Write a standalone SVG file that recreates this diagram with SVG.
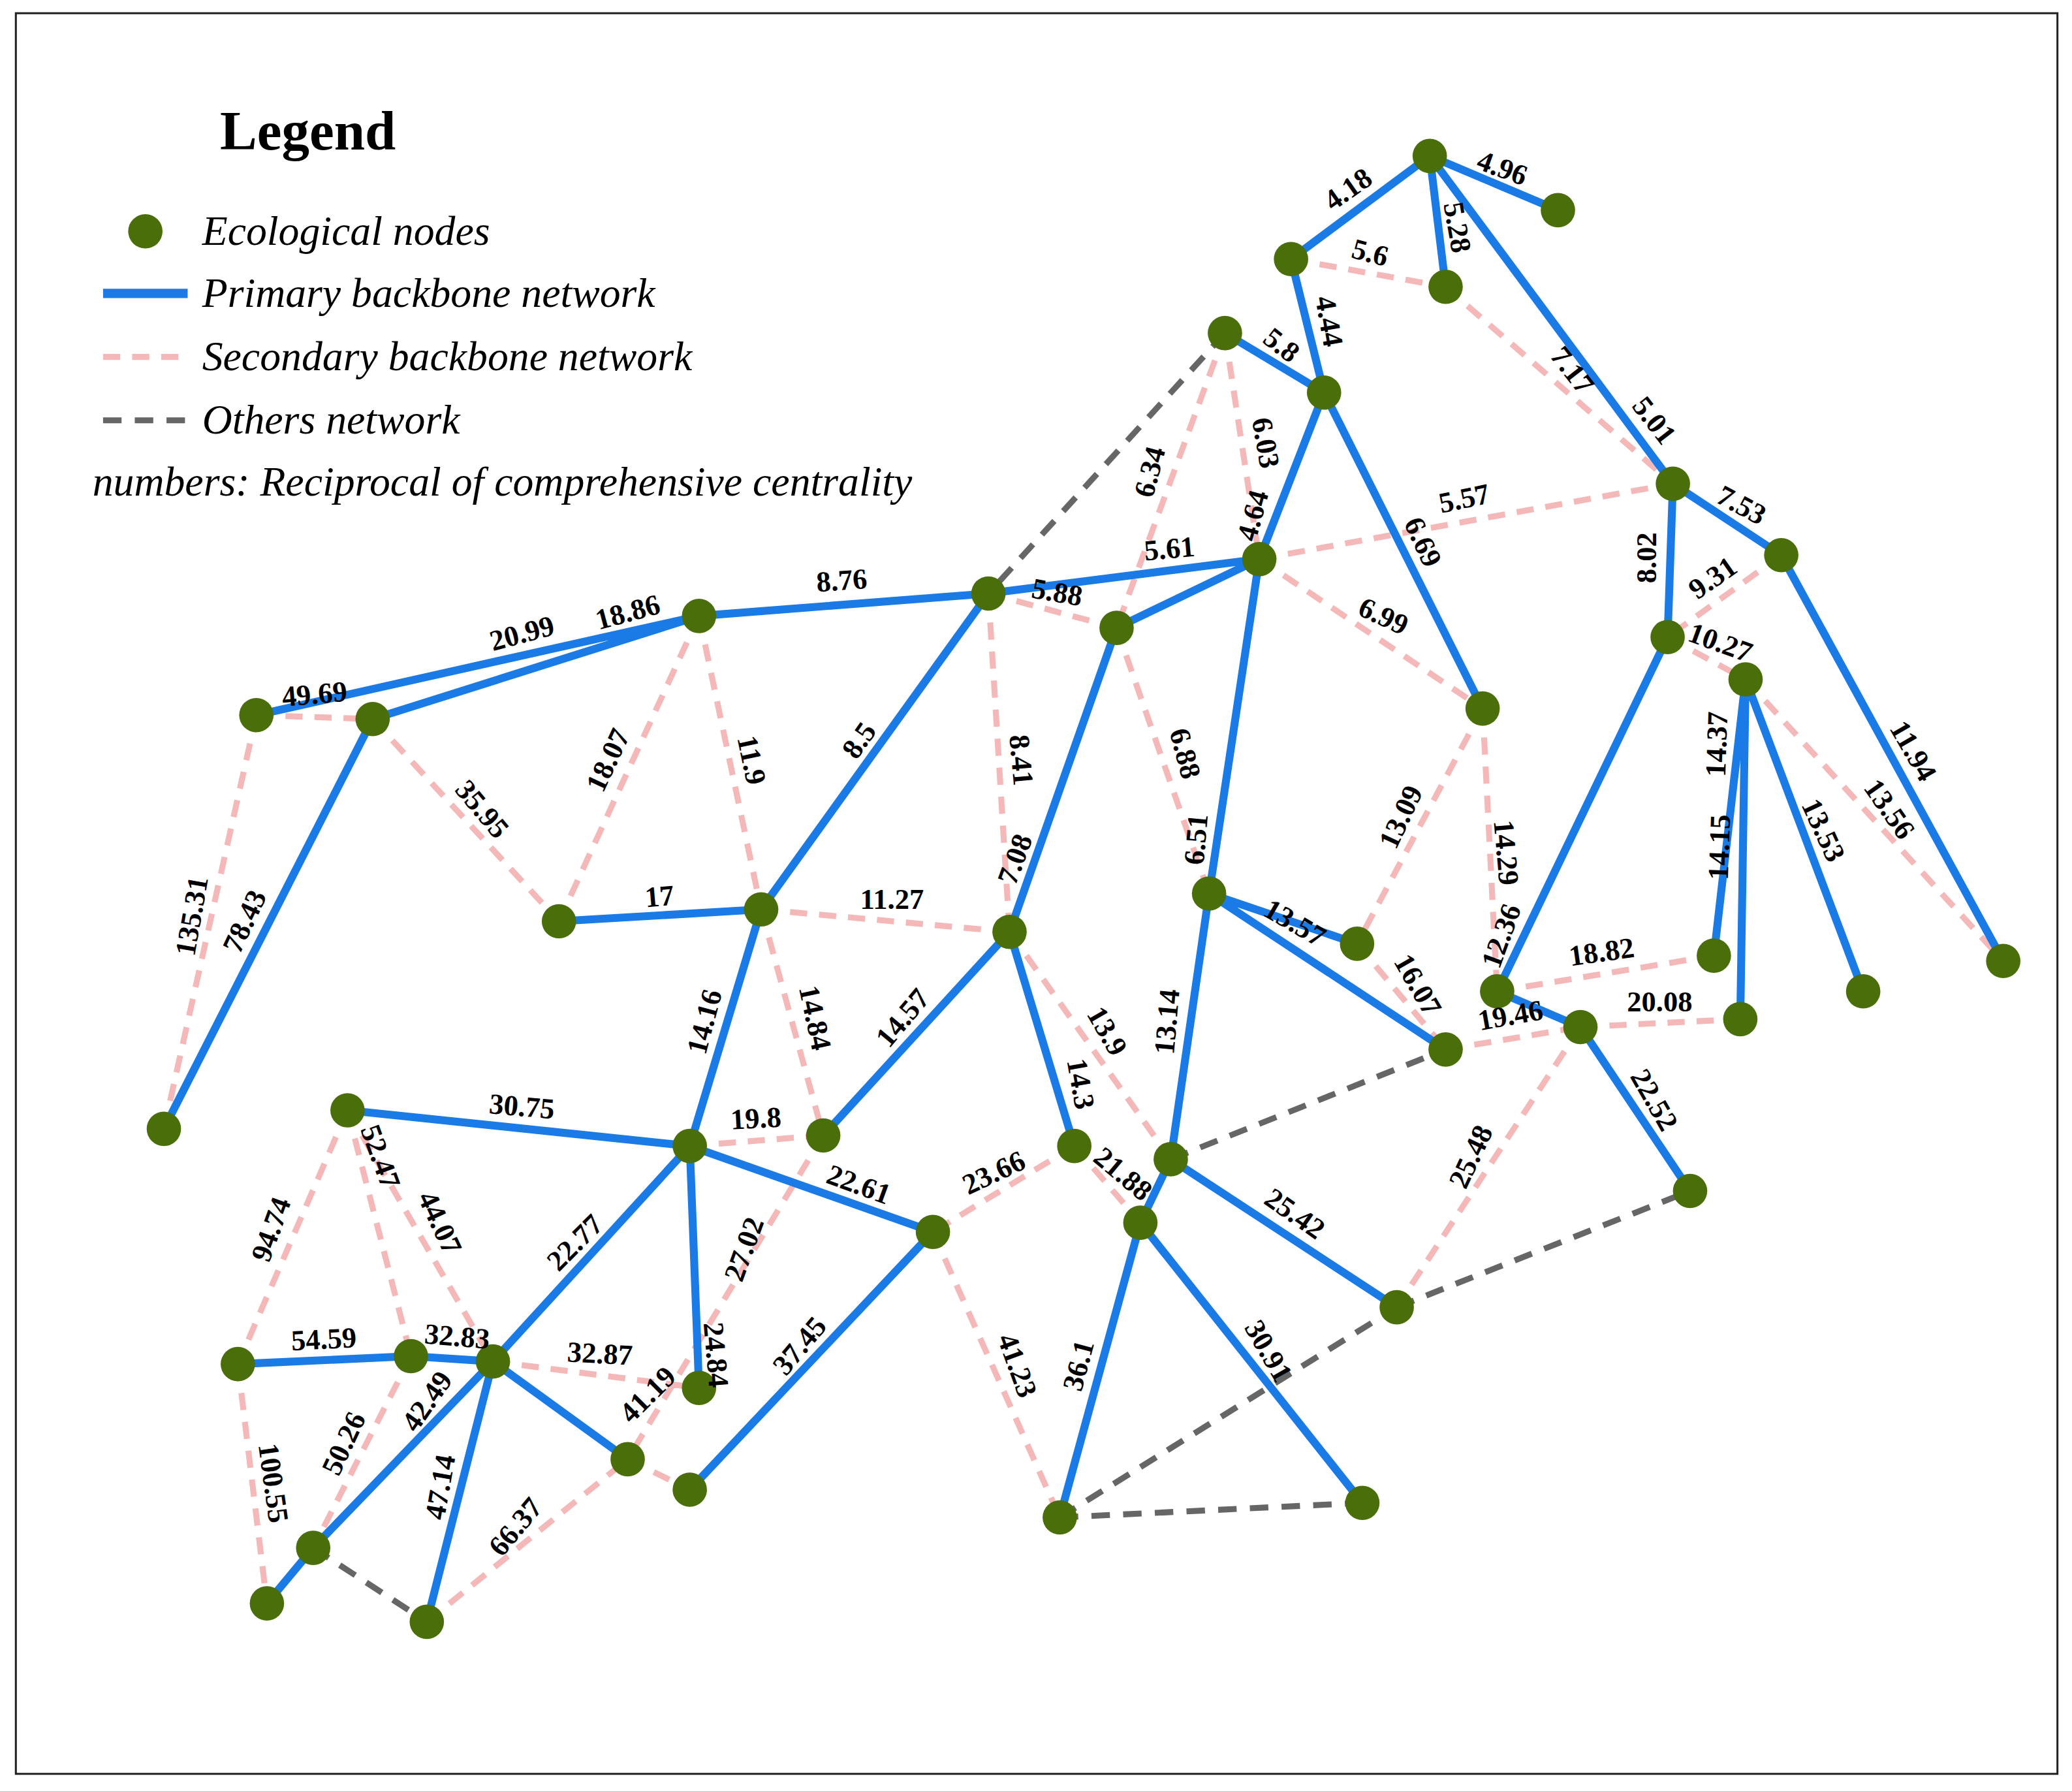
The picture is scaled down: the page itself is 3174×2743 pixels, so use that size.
<svg xmlns="http://www.w3.org/2000/svg" width="3174" height="2743" viewBox="0 0 3174 2743">
<style>
.p{stroke:#1a7be6;stroke-width:6;fill:none;stroke-linecap:round}
.s{stroke:#f4b8b8;stroke-width:4.5;fill:none;stroke-dasharray:13 9}
.o{stroke:#666;stroke-width:4.5;fill:none;stroke-dasharray:14 10}
.n{fill:#4a6e0a}
.l{font-family:"Liberation Serif",serif;font-weight:bold;font-size:22px;fill:#000;text-anchor:middle;dominant-baseline:central}
.g{font-family:"Liberation Serif",serif;font-style:italic;font-size:31.5px;fill:#000}
</style>
<rect width="3174" height="2743" fill="#fff"/>
<g transform="scale(2.0242,2.0244)">
<rect x="12" y="10" width="1545" height="1332" fill="none" stroke="#222" stroke-width="1.5"/>
<g id="legend">
<text x="233" y="113" font-family="Liberation Serif,serif" font-weight="bold" font-size="42" text-anchor="middle">Legend</text>
<circle class="n" cx="110" cy="175" r="13"/>
<text class="g" x="153" y="185">Ecological nodes</text>
<line x1="78" y1="222" x2="142" y2="222" stroke="#1a7be6" stroke-width="7"/>
<text class="g" x="153" y="232">Primary backbone network</text>
<line x1="78" y1="270" x2="142" y2="270" class="s"/>
<text class="g" x="153" y="280">Secondary backbone network</text>
<line x1="78" y1="318" x2="142" y2="318" class="o"/>
<text class="g" x="153" y="328">Others network</text>
<text class="g" x="70" y="375">numbers: Reciprocal of comprehensive centrality</text>
</g>
<g id="connectors">
<g>
<path class="s" d="M977,196L1094,217M1094,217L1266,366M927,252L845,475M927,252L953,423M953,423L1266,366M953,423L1122,536M748,449L845,475M748,449L764,705M845,475L915,676M1122,536L1027,714M1122,536L1133,750M1348,420L1262,482M1262,482L1321,514M1321,514L1516,727M194,541L282,544M194,541L124,854M282,544L423,697M529,466L423,697M529,466L576,688M576,688L764,705M576,688L623,859M522,867L623,859M764,705L886,877M813,867L706,932M813,867L863,925M706,932L802,1148M1027,714L1094,794M1133,750L1297,723M1094,794L1196,777M1196,777L1317,771M1196,777L1057,989M263,840L180,1032M263,840L311,1026M263,840L373,1030M180,1032L202,1213M311,1026L237,1171M373,1030L529,1050M623,859L475,1104M475,1104L522,1127M323,1227L475,1104"/>
</g>
<g>
<path class="o" d="M927,252L748,449M886,877L1094,794M1057,989L1279,901M802,1148L1057,989M802,1148L1031,1137M237,1171L323,1227"/>
</g>
<g>
<path class="p" d="M1082,118L977,196M1082,118L1179,159M1082,118L1094,217M1082,118L1266,366M977,196L1002,297M927,252L1002,297M1002,297L953,423M1002,297L1122,536M953,423L748,449M953,423L845,475M953,423L915,676M748,449L529,466M529,466L194,541M529,466L282,544M282,544L124,854M748,449L576,688M423,697L576,688M576,688L522,867M845,475L764,705M764,705L623,859M764,705L813,867M915,676L1027,714M915,676L1094,794M915,676L886,877M1266,366L1262,482M1266,366L1348,420M1348,420L1516,727M1262,482L1133,750M1321,514L1297,723M1321,514L1317,771M1321,514L1410,750M1133,750L1196,777M1196,777L1279,901M263,840L522,867M522,867L373,1030M522,867L529,1050M522,867L706,932M706,932L522,1127M886,877L863,925M886,877L1057,989M863,925L802,1148M863,925L1031,1137M180,1032L311,1026M311,1026L373,1030M373,1030L237,1171M237,1171L202,1213M373,1030L323,1227M373,1030L475,1104"/>
</g>
</g>
<g id="nodes">
<circle id="n1" class="n" cx="1082" cy="118" r="13"/><circle id="n2" class="n" cx="1179" cy="159" r="13"/><circle id="n3" class="n" cx="977" cy="196" r="13"/><circle id="n4" class="n" cx="1094" cy="217" r="13"/><circle id="n5" class="n" cx="927" cy="252" r="13"/><circle id="n6" class="n" cx="1002" cy="297" r="13"/><circle id="n7" class="n" cx="1266" cy="366" r="13"/><circle id="n8" class="n" cx="1348" cy="420" r="13"/><circle id="n9" class="n" cx="953" cy="423" r="13"/><circle id="n10" class="n" cx="748" cy="449" r="13"/><circle id="n11" class="n" cx="845" cy="475" r="13"/><circle id="n12" class="n" cx="529" cy="466" r="13"/><circle id="n13" class="n" cx="1262" cy="482" r="13"/><circle id="n14" class="n" cx="1321" cy="514" r="13"/><circle id="n15" class="n" cx="1122" cy="536" r="13"/><circle id="n16" class="n" cx="194" cy="541" r="13"/><circle id="n17" class="n" cx="282" cy="544" r="13"/><circle id="n18" class="n" cx="423" cy="697" r="13"/><circle id="n19" class="n" cx="576" cy="688" r="13"/><circle id="n20" class="n" cx="764" cy="705" r="13"/><circle id="n21" class="n" cx="915" cy="676" r="13"/><circle id="n22" class="n" cx="1027" cy="714" r="13"/><circle id="n23" class="n" cx="124" cy="854" r="13"/><circle id="n24" class="n" cx="1297" cy="723" r="13"/><circle id="n25" class="n" cx="1410" cy="750" r="13"/><circle id="n26" class="n" cx="1516" cy="727" r="13"/><circle id="n27" class="n" cx="1133" cy="750" r="13"/><circle id="n28" class="n" cx="1196" cy="777" r="13"/><circle id="n29" class="n" cx="1317" cy="771" r="13"/><circle id="n30" class="n" cx="1094" cy="794" r="13"/><circle id="n31" class="n" cx="263" cy="840" r="13"/><circle id="n32" class="n" cx="522" cy="867" r="13"/><circle id="n33" class="n" cx="623" cy="859" r="13"/><circle id="n34" class="n" cx="813" cy="867" r="13"/><circle id="n35" class="n" cx="886" cy="877" r="13"/><circle id="n36" class="n" cx="863" cy="925" r="13"/><circle id="n37" class="n" cx="706" cy="932" r="13"/><circle id="n38" class="n" cx="1279" cy="901" r="13"/><circle id="n39" class="n" cx="1057" cy="989" r="13"/><circle id="n40" class="n" cx="180" cy="1032" r="13"/><circle id="n41" class="n" cx="311" cy="1026" r="13"/><circle id="n42" class="n" cx="373" cy="1030" r="13"/><circle id="n43" class="n" cx="529" cy="1050" r="13"/><circle id="n44" class="n" cx="475" cy="1104" r="13"/><circle id="n45" class="n" cx="522" cy="1127" r="13"/><circle id="n46" class="n" cx="802" cy="1148" r="13"/><circle id="n47" class="n" cx="1031" cy="1137" r="13"/><circle id="n48" class="n" cx="237" cy="1171" r="13"/><circle id="n49" class="n" cx="202" cy="1213" r="13"/><circle id="n50" class="n" cx="323" cy="1227" r="13"/>
</g>
<g id="labels">
<text class="l" transform="translate(1020,143) rotate(-35)">4.18</text>
<text class="l" transform="translate(1137,127) rotate(20)">4.96</text>
<text class="l" transform="translate(1103,172) rotate(80)">5.28</text>
<text class="l" transform="translate(1037,191) rotate(15)">5.6</text>
<text class="l" transform="translate(1006,243) rotate(80)">4.44</text>
<text class="l" transform="translate(970,261) rotate(38)">5.8</text>
<text class="l" transform="translate(1190,280) rotate(52)">7.17</text>
<text class="l" transform="translate(1252,318) rotate(52)">5.01</text>
<text class="l" transform="translate(870,357) rotate(-75)">6.34</text>
<text class="l" transform="translate(958,335) rotate(80)">6.03</text>
<text class="l" transform="translate(948,390) rotate(-75)">4.64</text>
<text class="l" transform="translate(1108,377) rotate(-12)">5.57</text>
<text class="l" transform="translate(1318,382) rotate(28)">7.53</text>
<text class="l" transform="translate(1246,422) rotate(-90)">8.02</text>
<text class="l" transform="translate(1296,437) rotate(-35)">9.31</text>
<text class="l" transform="translate(1302,486) rotate(20)">10.27</text>
<text class="l" transform="translate(1077,410) rotate(65)">6.69</text>
<text class="l" transform="translate(885,415) rotate(-5)">5.61</text>
<text class="l" transform="translate(800,448) rotate(10)">5.88</text>
<text class="l" transform="translate(637,439) rotate(-4)">8.76</text>
<text class="l" transform="translate(475,463) rotate(-15)">18.86</text>
<text class="l" transform="translate(395,479) rotate(-15)">20.99</text>
<text class="l" transform="translate(238,525) rotate(-5)">49.69</text>
<text class="l" transform="translate(1047,466) rotate(25)">6.99</text>
<text class="l" transform="translate(1448,568) rotate(60)">11.94</text>
<text class="l" transform="translate(1430,612) rotate(55)">13.56</text>
<text class="l" transform="translate(1299,563) rotate(-88)">14.37</text>
<text class="l" transform="translate(1301,641) rotate(-88)">14.15</text>
<text class="l" transform="translate(1380,628) rotate(65)">13.53</text>
<text class="l" transform="translate(773,575) rotate(85)">8.41</text>
<text class="l" transform="translate(897,570) rotate(75)">6.88</text>
<text class="l" transform="translate(650,560) rotate(-55)">8.5</text>
<text class="l" transform="translate(460,575) rotate(-65)">18.07</text>
<text class="l" transform="translate(569,575) rotate(78)">11.9</text>
<text class="l" transform="translate(365,612) rotate(50)">35.95</text>
<text class="l" transform="translate(1060,618) rotate(-65)">13.09</text>
<text class="l" transform="translate(1140,645) rotate(85)">14.29</text>
<text class="l" transform="translate(768,650) rotate(-70)">7.08</text>
<text class="l" transform="translate(905,635) rotate(-85)">6.51</text>
<text class="l" transform="translate(145,693) rotate(-80)">135.31</text>
<text class="l" transform="translate(185,697) rotate(-65)">78.43</text>
<text class="l" transform="translate(499,678) rotate(-5)">17</text>
<text class="l" transform="translate(675,680) rotate(0)">11.27</text>
<text class="l" transform="translate(1136,708) rotate(-70)">12.36</text>
<text class="l" transform="translate(980,698) rotate(30)">13.57</text>
<text class="l" transform="translate(1073,745) rotate(60)">16.07</text>
<text class="l" transform="translate(1212,720) rotate(-8)">18.82</text>
<text class="l" transform="translate(1143,768) rotate(-10)">19.46</text>
<text class="l" transform="translate(1256,758) rotate(0)">20.08</text>
<text class="l" transform="translate(533,773) rotate(-75)">14.16</text>
<text class="l" transform="translate(617,770) rotate(78)">14.84</text>
<text class="l" transform="translate(683,770) rotate(-50)">14.57</text>
<text class="l" transform="translate(838,780) rotate(60)">13.9</text>
<text class="l" transform="translate(818,820) rotate(80)">14.3</text>
<text class="l" transform="translate(883,773) rotate(-85)">13.14</text>
<text class="l" transform="translate(1252,832) rotate(60)">22.52</text>
<text class="l" transform="translate(1113,875) rotate(-65)">25.48</text>
<text class="l" transform="translate(395,837) rotate(5)">30.75</text>
<text class="l" transform="translate(572,846) rotate(-3)">19.8</text>
<text class="l" transform="translate(650,896) rotate(20)">22.61</text>
<text class="l" transform="translate(752,887) rotate(-25)">23.66</text>
<text class="l" transform="translate(850,888) rotate(40)">21.88</text>
<text class="l" transform="translate(288,875) rotate(70)">52.47</text>
<text class="l" transform="translate(333,925) rotate(65)">44.07</text>
<text class="l" transform="translate(205,930) rotate(-70)">94.74</text>
<text class="l" transform="translate(435,940) rotate(-45)">22.77</text>
<text class="l" transform="translate(563,945) rotate(-70)">27.02</text>
<text class="l" transform="translate(980,918) rotate(35)">25.42</text>
<text class="l" transform="translate(542,1025) rotate(85)">24.84</text>
<text class="l" transform="translate(245,1013) rotate(-3)">54.59</text>
<text class="l" transform="translate(346,1011) rotate(5)">32.83</text>
<text class="l" transform="translate(454,1024) rotate(3)">32.87</text>
<text class="l" transform="translate(605,1018) rotate(-50)">37.45</text>
<text class="l" transform="translate(490,1055) rotate(-45)">41.19</text>
<text class="l" transform="translate(960,1022) rotate(60)">30.91</text>
<text class="l" transform="translate(770,1033) rotate(70)">41.23</text>
<text class="l" transform="translate(816,1033) rotate(-75)">36.1</text>
<text class="l" transform="translate(323,1060) rotate(-55)">42.49</text>
<text class="l" transform="translate(260,1092) rotate(-65)">50.26</text>
<text class="l" transform="translate(207,1122) rotate(82)">100.55</text>
<text class="l" transform="translate(333,1125) rotate(-80)">47.14</text>
<text class="l" transform="translate(390,1155) rotate(-50)">66.37</text>
</g>
</g>
</svg>
